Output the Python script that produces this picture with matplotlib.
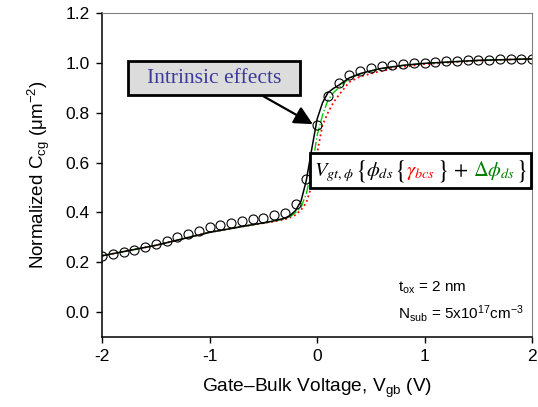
import numpy as np
import matplotlib
matplotlib.use("Agg")
import matplotlib.pyplot as plt
from matplotlib.patches import Rectangle
from matplotlib.offsetbox import TextArea, HPacker, AnnotationBbox

plt.rcParams['font.family'] = ['Liberation Sans', 'DejaVu Sans']
plt.rcParams['mathtext.fontset'] = 'custom'
plt.rcParams['mathtext.rm'] = 'Liberation Sans'
plt.rcParams['mathtext.it'] = 'Liberation Sans:italic'
plt.rcParams['axes.unicode_minus'] = False

# measured C-V points (circles), 0.1 V step
v_meas = [-2.0, -1.9, -1.8, -1.7, -1.6, -1.5, -1.4, -1.3, -1.2, -1.1,
          -1.0, -0.9, -0.8, -0.7, -0.6, -0.5, -0.4, -0.3, -0.2, -0.1,
          0.0, 0.1, 0.2, 0.3, 0.4, 0.5, 0.6, 0.7, 0.8, 0.9,
          1.0, 1.1, 1.2, 1.3, 1.4, 1.5, 1.6, 1.7, 1.8, 1.9, 2.0]
c_meas = [0.226, 0.233, 0.241, 0.249, 0.261, 0.274, 0.287, 0.301, 0.314, 0.327,
          0.341, 0.350, 0.357, 0.366, 0.373, 0.379, 0.388, 0.398, 0.432, 0.535,
          0.750, 0.868, 0.920, 0.950, 0.966, 0.978, 0.986, 0.992, 0.996, 0.999,
          1.000, 1.003, 1.006, 1.007, 1.010, 1.011, 1.013, 1.014, 1.014, 1.015, 1.015]

# model curves
v_model = [-2.0, -1.5, -1.0, -0.7, -0.5, -0.4, -0.3, -0.25, -0.2, -0.15, -0.1,
           -0.05, 0.0, 0.05, 0.1, 0.15, 0.2, 0.3, 0.4, 0.5, 0.6, 0.8, 1.0, 1.5, 2.0]
c_full = [0.226, 0.268, 0.320, 0.343, 0.358, 0.366, 0.377, 0.388, 0.408, 0.445, 0.53,
          0.655, 0.775, 0.840, 0.880, 0.897, 0.910, 0.940, 0.957, 0.968, 0.978, 0.990, 0.998, 1.010, 1.016]
c_no_dphi = [0.226, 0.268, 0.320, 0.343, 0.358, 0.365, 0.375, 0.383, 0.400, 0.420, 0.477,
             0.570, 0.710, 0.790, 0.850, 0.880, 0.900, 0.938, 0.955, 0.967, 0.976, 0.990, 0.998, 1.010, 1.016]
c_no_gamma = [0.226, 0.268, 0.320, 0.343, 0.357, 0.363, 0.372, 0.380, 0.390, 0.410, 0.440,
              0.510, 0.640, 0.750, 0.800, 0.840, 0.870, 0.923, 0.945, 0.957, 0.968, 0.984, 0.995, 1.009, 1.016]

fig = plt.figure(figsize=(5.38, 4.07), dpi=100)
ax = fig.add_axes([0.19, 0.172, 0.799, 0.796])

ax.plot(v_model, c_no_gamma, color='red', ls=':', lw=1.3)
ax.plot(v_model, c_no_dphi, color='#00cc00', ls='-.', lw=1.0)
ax.plot(v_model, c_full, color='black', ls='-', lw=1.1)
ax.plot(v_meas, c_meas, 'o', mfc='none', mec='black', ms=6.5, mew=0.8)

ax.set_xlim(-2, 2)
ax.set_ylim(-0.1, 1.2)
ax.set_xticks([-2, -1, 0, 1, 2])
ax.set_yticks([0.0, 0.2, 0.4, 0.6, 0.8, 1.0, 1.2])
ax.set_yticklabels(['0.0', '0.2', '0.4', '0.6', '0.8', '1.0', '1.2'])
ax.tick_params(direction='out', length=4, width=1, labelsize=12.5, pad=5)
for s in ['top', 'right']:
    ax.spines[s].set_color('#808080')
for s in ['left', 'bottom']:
    ax.spines[s].set_linewidth(1.1)

ax.set_xlabel('Gate\u2013Bulk Voltage, V$_{\\mathrm{gb}}$ (V)', fontsize=13.8, labelpad=9)
ax.set_ylabel('Normalized C$_{\\mathrm{cg}}$ (\u03bcm$^{\\mathrm{-2}}$)', fontsize=13.5, labelpad=10)

ax.text(0.75, 0.083, 't$_{\\mathrm{ox}}$ = 2 nm', fontsize=11)
ax.text(0.75, -0.026, 'N$_{\\mathrm{sub}}$ = 5x10$^{\\mathrm{17}}$cm$^{\\mathrm{-3}}$', fontsize=11)

# arrow + label box
ax.annotate('', xy=(-0.04, 0.754), xytext=(-0.50, 0.866),
            arrowprops=dict(arrowstyle='-|>', mutation_scale=28, lw=1.6, color='black',
                            shrinkA=0, shrinkB=0))
ax.add_patch(Rectangle((-1.758, 0.87), 1.60, 0.136, fc='#dcdcdc', ec='black', lw=2,
                       zorder=5))
ax.text(-0.958, 0.938, 'Intrinsic effects', fontsize=15.5, family='Liberation Serif',
        color='#3a3a9a', ha='center', va='center', zorder=6)


# equation box with coloured parts
def math_piece(s, color='black', fs=14.8):
    return TextArea(s, textprops=dict(color=color, fontsize=fs, math_fontfamily='stix'))


left = HPacker(children=[math_piece(r'$V_{gt,\phi}$'),
                         math_piece(r'$\{$', fs=18.5),
                         math_piece(r'$\phi_{ds}$'),
                         math_piece(r'$\{$', fs=18.5),
                         math_piece(r'$\gamma_{bcs}$', 'red'),
                         math_piece(r'$\}$', fs=18.5)],
               align='baseline', pad=0, sep=0.5)
right = HPacker(children=[math_piece(r'$\Delta\phi_{ds}$', '#008000'),
                          math_piece(r'$\}$', fs=18.5)],
                align='baseline', pad=0, sep=0.5)
pack = HPacker(children=[left, math_piece(r'$+$'), right], align='baseline', pad=0, sep=3.5)
ab = AnnotationBbox(pack, (0.963, 0.568), xycoords='data', frameon=True, pad=0.45,
                    bboxprops=dict(boxstyle='square', ec='black', lw=2, fc='white'))
ax.add_artist(ab)

fig.savefig('out.png', dpi=100)
